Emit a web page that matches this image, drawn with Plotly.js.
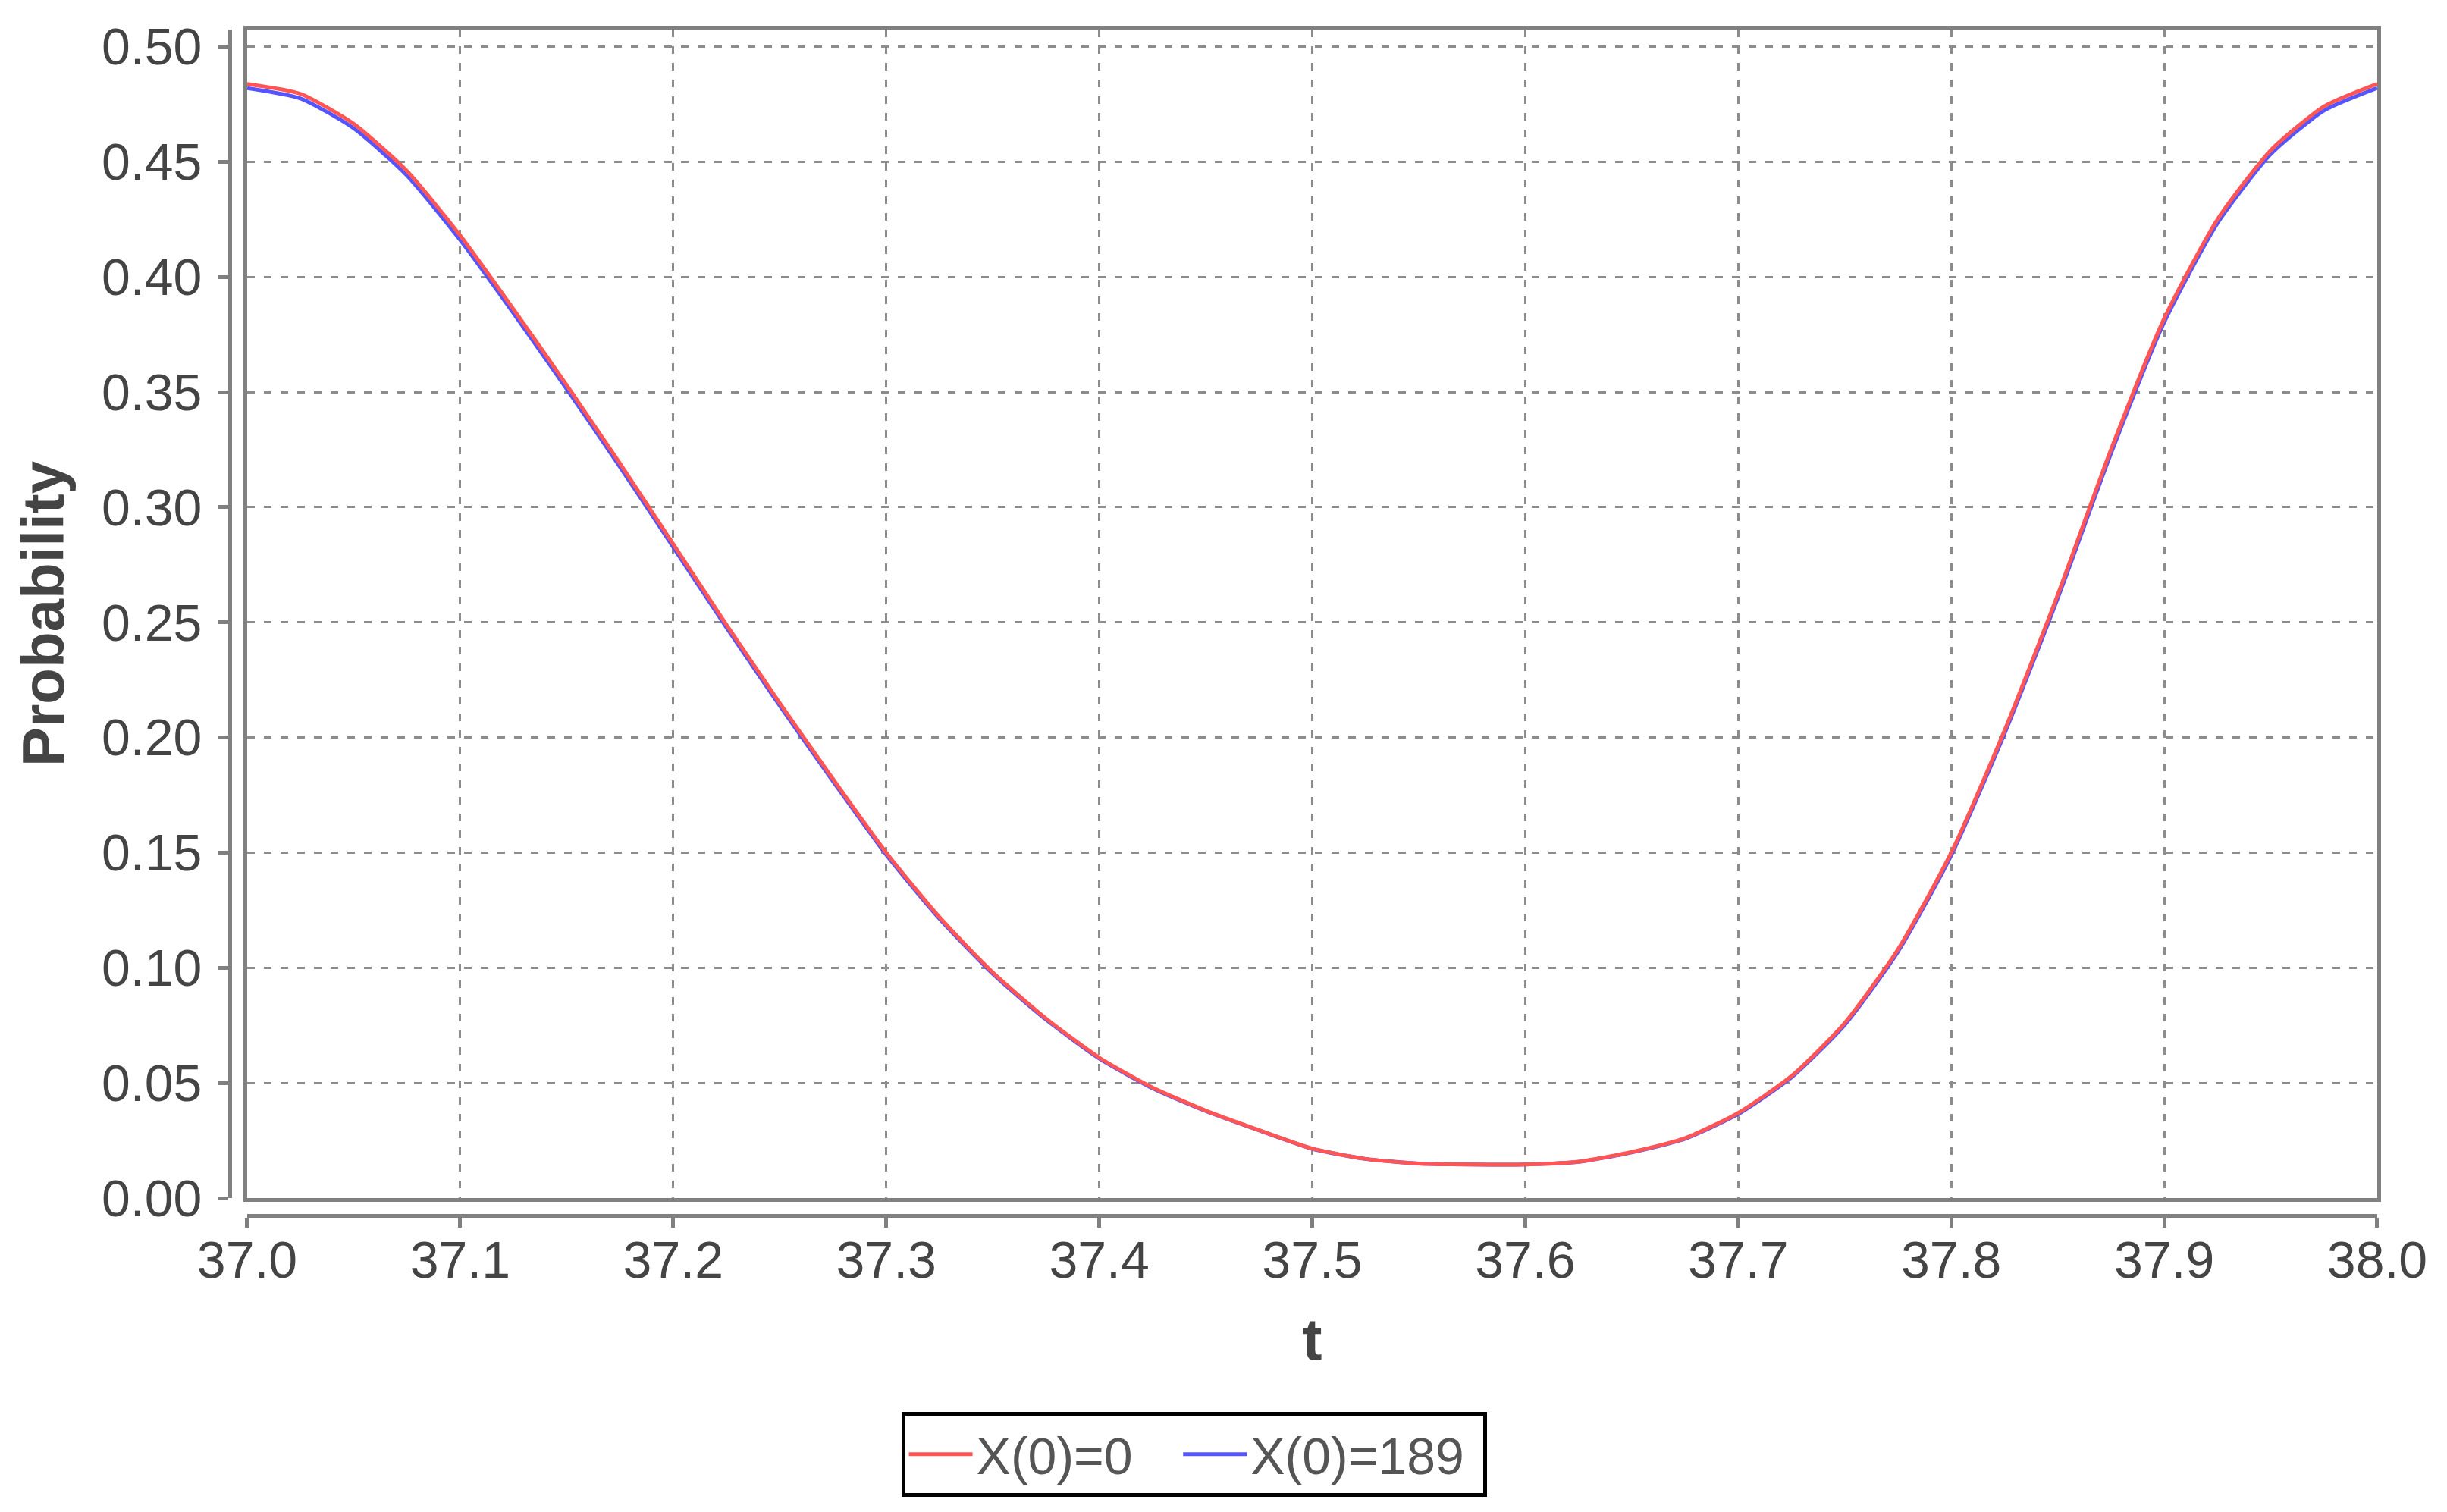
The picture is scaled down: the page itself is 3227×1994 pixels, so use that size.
<!DOCTYPE html>
<html>
<head>
<meta charset="utf-8">
<script src="https://cdn.plot.ly/plotly-3.0.1.min.js"></script>
<style>
  html, body { margin: 0; padding: 0; background: #fff; }
</style>
</head>
<body>
<div id="myDiv" style="width:3227px;height:1994px;"></div>
<script>
var t = [37.000, 37.025, 37.050, 37.075, 37.100, 37.125, 37.150, 37.175, 37.200, 37.225,
         37.250, 37.275, 37.300, 37.325, 37.350, 37.375, 37.400, 37.425, 37.450, 37.475,
         37.500, 37.525, 37.550, 37.575, 37.600, 37.625, 37.650, 37.675, 37.700, 37.725,
         37.750, 37.775, 37.800, 37.825, 37.850, 37.875, 37.900, 37.925, 37.950, 37.975,
         38.000];

// X(0)=0
var probX0 = [0.4838, 0.4795, 0.4665, 0.4460, 0.4180, 0.3860, 0.3530, 0.3190, 0.2840, 0.2490,
              0.2150, 0.1820, 0.1500, 0.1220, 0.0980, 0.0780, 0.0610, 0.0480, 0.0380, 0.0295,
              0.0215, 0.0170, 0.0150, 0.0146, 0.0146, 0.0158, 0.0200, 0.0260, 0.0370, 0.0530,
              0.0760, 0.1080, 0.1500, 0.2030, 0.2620, 0.3250, 0.3820, 0.4250, 0.4550, 0.4740,
              0.4838];

// X(0)=189
var probX189 = [0.4820, 0.4775, 0.4645, 0.4440, 0.4160, 0.3842, 0.3513, 0.3175, 0.2826, 0.2477,
                0.2138, 0.1810, 0.1491, 0.1213, 0.0974, 0.0775, 0.0606, 0.0477, 0.0378, 0.0294,
                0.0214, 0.0170, 0.0150, 0.0146, 0.0146, 0.0157, 0.0198, 0.0257, 0.0365, 0.0524,
                0.0752, 0.1070, 0.1488, 0.2016, 0.2604, 0.3233, 0.3803, 0.4233, 0.4533, 0.4722,
                0.4820];

// trailing no-break spaces only widen the legend entries
var seriesNames = ["X(0)=0\u00a0\u00a0\u00a0", "X(0)=189\u00a0"];

var fontFam = "Liberation Sans, Arial, sans-serif";
var tickCol = "#444444";
var axisCol = "#808080";

// blue goes underneath, red on top (second subplot is drawn above)
var trace1 = {
  x: t,
  y: probX189,
  name: seriesNames[1],
  type: "scatter",
  mode: "lines",
  line: { color: "#5555ff", width: 5, shape: "spline", smoothing: 0.6 },
  legendrank: 2,
  xaxis: "x",
  yaxis: "y",
};

var trace2 = {
  x: t,
  y: probX0,
  name: seriesNames[0],
  type: "scatter",
  mode: "lines",
  line: { color: "#ff5555", width: 5, shape: "spline", smoothing: 0.6 },
  legendrank: 1,
  xaxis: "x2",
  yaxis: "y2",
};

var data = [trace1, trace2];

var xRange = [37, 38];
var yRange = [0, 0.5074];

var layout = {
  width: 3227,
  height: 1994,
  margin: { l: 303, r: 92, t: 39, b: 391, pad: 0 },
  paper_bgcolor: "#ffffff",
  plot_bgcolor: "#ffffff",
  showlegend: true,
  font: { family: fontFam, color: tickCol, size: 68 },
  // frame + grid
  xaxis: {
    domain: [0.00812, 1],
    range: xRange,
    tick0: 37,
    dtick: 0.1,
    showgrid: true,
    gridcolor: "#8c8c8c",
    gridwidth: 3,
    griddash: "10px,12px",
    showline: true,
    mirror: true,
    linecolor: axisCol,
    linewidth: 5,
    ticks: "",
    showticklabels: false,
    zeroline: false,
  },
  yaxis: {
    domain: [0.0147, 1],
    range: yRange,
    tick0: 0,
    dtick: 0.05,
    showgrid: true,
    gridcolor: "#8c8c8c",
    gridwidth: 3,
    griddash: "10px,12px",
    showline: true,
    mirror: true,
    linecolor: axisCol,
    linewidth: 5,
    ticks: "",
    showticklabels: false,
    zeroline: false,
  },
  // offset axes with ticks and labels
  xaxis2: {
    overlaying: "x",
    anchor: "free",
    position: 0,
    range: xRange,
    tick0: 37,
    dtick: 0.1,
    tickformat: ".1f",
    showgrid: false,
    zeroline: false,
    showline: true,
    linecolor: axisCol,
    linewidth: 5,
    ticks: "outside",
    ticklen: 13,
    tickwidth: 5,
    tickcolor: axisCol,
    ticklabelstandoff: -16,
    tickfont: { family: fontFam, size: 68, color: tickCol },
    title: {
      text: "t",
      standoff: 40,
      font: { family: fontFam, size: 78, color: tickCol, weight: "bold" },
    },
  },
  yaxis2: {
    overlaying: "y",
    anchor: "free",
    position: 0,
    side: "left",
    range: yRange,
    tick0: 0,
    dtick: 0.05,
    tickformat: ".2f",
    showgrid: false,
    zeroline: false,
    showline: true,
    linecolor: axisCol,
    linewidth: 5,
    ticks: "outside",
    ticklen: 13,
    tickwidth: 5,
    tickcolor: axisCol,
    ticklabelstandoff: 8,
    tickfont: { family: fontFam, size: 68, color: tickCol },
    title: {
      text: "Probability",
      standoff: 22,
      font: { family: fontFam, size: 78, color: tickCol, weight: "bold" },
    },
  },
  legend: {
    orientation: "h",
    x: 0.449,
    xanchor: "center",
    y: -0.1656,
    yanchor: "top",
    bgcolor: "#ffffff",
    bordercolor: "#000000",
    borderwidth: 5,
    itemwidth: 84,
    font: { family: fontFam, size: 68, color: "#555555" },
  },
};

Plotly.newPlot("myDiv", data, layout, { staticPlot: true });
</script>
</body>
</html>
